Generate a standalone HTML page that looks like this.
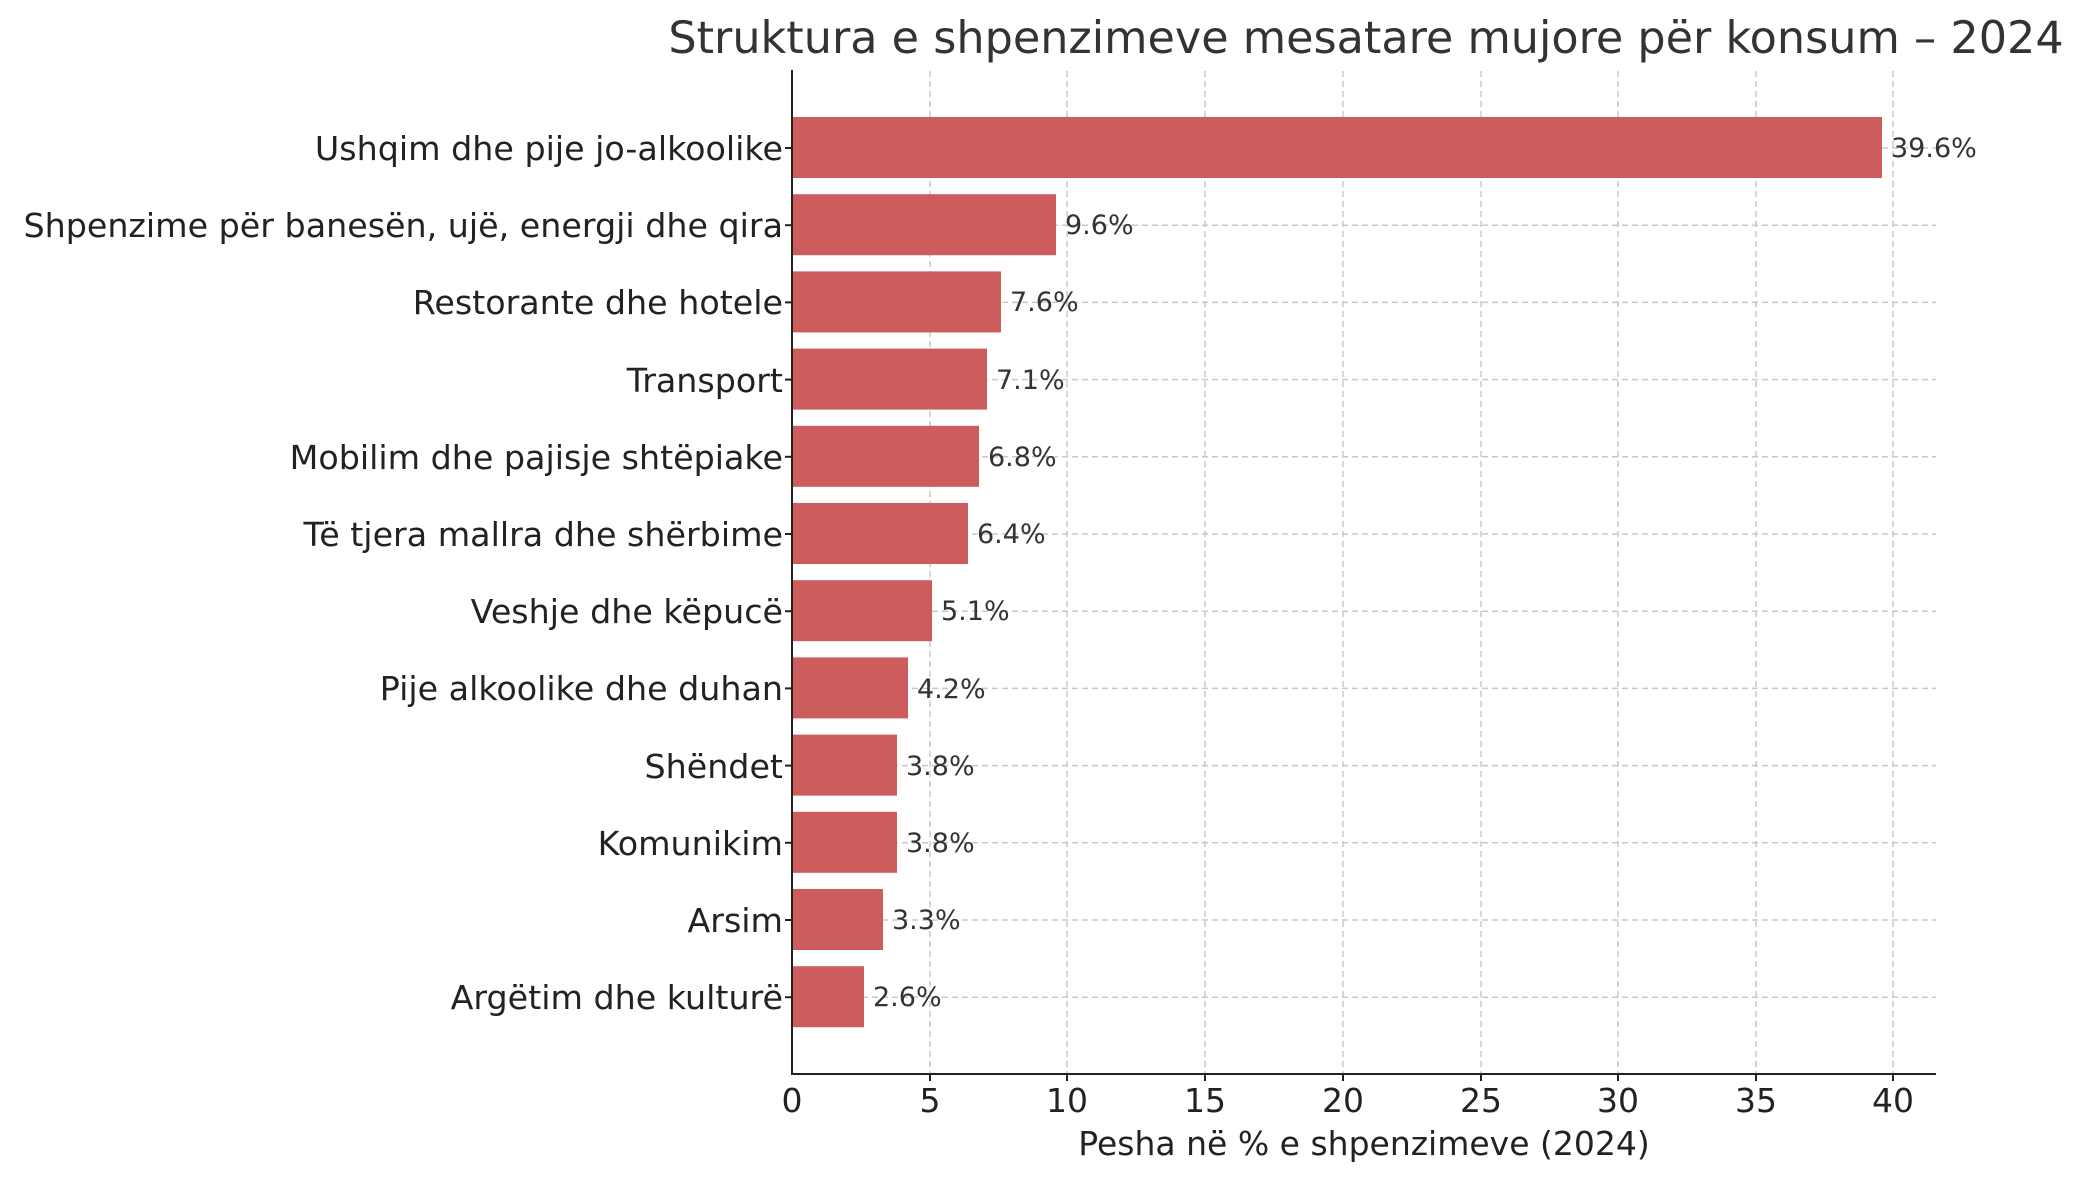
<!DOCTYPE html>
<html><head><meta charset="utf-8"><style>
html,body{margin:0;padding:0;background:#fff}
svg{display:block}
text{font-family:"DejaVu Sans","Liberation Sans",sans-serif}
</style></head><body>
<svg width="2079" height="1180" viewBox="0 0 2079 1180" xmlns="http://www.w3.org/2000/svg">
<rect width="2079" height="1180" fill="#fff"/>
<text x="1366" y="53" font-size="44.5" fill="#333" text-anchor="middle">Struktura e shpenzimeve mesatare mujore për konsum – 2024</text>
<g stroke="#c8c8c8" stroke-width="1.5" stroke-dasharray="6,4">
<line x1="930" y1="71" x2="930" y2="1074"/><line x1="1067" y1="71" x2="1067" y2="1074"/>
<line x1="1205" y1="71" x2="1205" y2="1074"/><line x1="1343" y1="71" x2="1343" y2="1074"/>
<line x1="1481" y1="71" x2="1481" y2="1074"/><line x1="1618" y1="71" x2="1618" y2="1074"/>
<line x1="1756" y1="71" x2="1756" y2="1074"/><line x1="1893" y1="71" x2="1893" y2="1074"/>
<line x1="792" y1="148" x2="1936" y2="148"/><line x1="792" y1="225.2" x2="1936" y2="225.2"/>
<line x1="792" y1="302.4" x2="1936" y2="302.4"/><line x1="792" y1="379.6" x2="1936" y2="379.6"/>
<line x1="792" y1="456.8" x2="1936" y2="456.8"/><line x1="792" y1="534" x2="1936" y2="534"/>
<line x1="792" y1="611.2" x2="1936" y2="611.2"/><line x1="792" y1="688.4" x2="1936" y2="688.4"/>
<line x1="792" y1="765.6" x2="1936" y2="765.6"/><line x1="792" y1="842.8" x2="1936" y2="842.8"/>
<line x1="792" y1="920" x2="1936" y2="920"/><line x1="792" y1="997.2" x2="1936" y2="997.2"/>
</g>
<g fill="#cd5c5c">
<rect x="792" y="117" width="1090" height="61"/>
<rect x="792" y="194.2" width="264" height="61"/>
<rect x="792" y="271.4" width="209" height="61"/>
<rect x="792" y="348.6" width="195" height="61"/>
<rect x="792" y="425.8" width="187" height="61"/>
<rect x="792" y="503" width="176" height="61"/>
<rect x="792" y="580.2" width="140" height="61"/>
<rect x="792" y="657.4" width="116" height="61"/>
<rect x="792" y="734.6" width="105" height="61"/>
<rect x="792" y="811.8" width="105" height="61"/>
<rect x="792" y="889" width="91" height="61"/>
<rect x="792" y="966.2" width="72" height="61"/>
</g>
<g font-size="27" fill="#333">
<text x="1891" y="157">39.6%</text>
<text x="1065" y="234">9.6%</text>
<text x="1010" y="311">7.6%</text>
<text x="996" y="389">7.1%</text>
<text x="988" y="466">6.8%</text>
<text x="977" y="543">6.4%</text>
<text x="941" y="620">5.1%</text>
<text x="917" y="698">4.2%</text>
<text x="906" y="775">3.8%</text>
<text x="906" y="852">3.8%</text>
<text x="892" y="929">3.3%</text>
<text x="873" y="1006">2.6%</text>
</g>
<g font-size="33.3" fill="#222" text-anchor="end">
<text x="783" y="160">Ushqim dhe pije jo-alkoolike</text>
<text x="783" y="237">Shpenzime për banesën, ujë, energji dhe qira</text>
<text x="783" y="314">Restorante dhe hotele</text>
<text x="783" y="392">Transport</text>
<text x="783" y="469">Mobilim dhe pajisje shtëpiake</text>
<text x="783" y="546">Të tjera mallra dhe shërbime</text>
<text x="783" y="623">Veshje dhe këpucë</text>
<text x="783" y="700">Pije alkoolike dhe duhan</text>
<text x="783" y="778">Shëndet</text>
<text x="783" y="855">Komunikim</text>
<text x="783" y="932">Arsim</text>
<text x="783" y="1009">Argëtim dhe kulturë</text>
</g>
<g stroke="#222" stroke-width="2">
<line x1="792" y1="70" x2="792" y2="1075"/>
<line x1="791" y1="1074" x2="1936" y2="1074"/>
<line x1="930" y1="1074" x2="930" y2="1081"/><line x1="1067" y1="1074" x2="1067" y2="1081"/>
<line x1="1205" y1="1074" x2="1205" y2="1081"/><line x1="1343" y1="1074" x2="1343" y2="1081"/>
<line x1="1481" y1="1074" x2="1481" y2="1081"/><line x1="1618" y1="1074" x2="1618" y2="1081"/>
<line x1="1756" y1="1074" x2="1756" y2="1081"/><line x1="1893" y1="1074" x2="1893" y2="1081"/>
<line x1="785" y1="148" x2="792" y2="148"/><line x1="785" y1="225.2" x2="792" y2="225.2"/>
<line x1="785" y1="302.4" x2="792" y2="302.4"/><line x1="785" y1="379.6" x2="792" y2="379.6"/>
<line x1="785" y1="456.8" x2="792" y2="456.8"/><line x1="785" y1="534" x2="792" y2="534"/>
<line x1="785" y1="611.2" x2="792" y2="611.2"/><line x1="785" y1="688.4" x2="792" y2="688.4"/>
<line x1="785" y1="765.6" x2="792" y2="765.6"/><line x1="785" y1="842.8" x2="792" y2="842.8"/>
<line x1="785" y1="920" x2="792" y2="920"/><line x1="785" y1="997.2" x2="792" y2="997.2"/>
</g>
<g font-size="33" fill="#222" text-anchor="middle">
<text x="792" y="1112">0</text><text x="930" y="1112">5</text>
<text x="1067" y="1112">10</text><text x="1205" y="1112">15</text>
<text x="1343" y="1112">20</text><text x="1481" y="1112">25</text>
<text x="1618" y="1112">30</text><text x="1756" y="1112">35</text>
<text x="1893" y="1112">40</text>
<text x="1364" y="1155">Pesha në % e shpenzimeve (2024)</text>
</g>
</svg>
</body></html>
